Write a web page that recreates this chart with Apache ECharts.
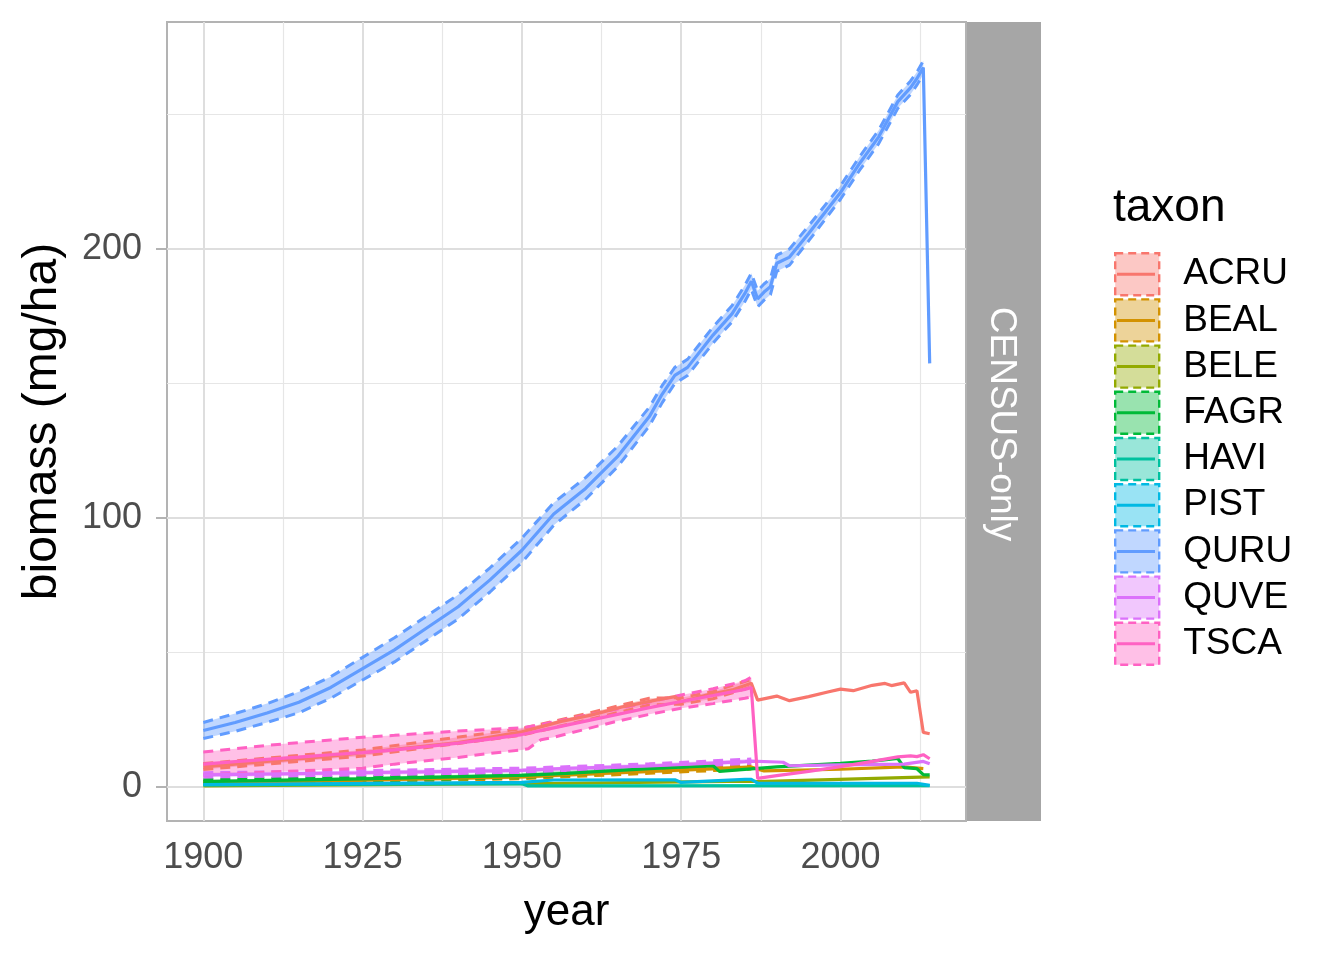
<!DOCTYPE html>
<html><head><meta charset="utf-8">
<script src="https://cdn.jsdelivr.net/npm/echarts@6/dist/echarts.min.js"></script>
<style>html,body{margin:0;padding:0;background:#fff}#c{width:1344px;height:960px}</style>
</head><body><div id="c"></div>
<script>
// ---------- DATA ----------
const taxa = ['ACRU','BEAL','BELE','FAGR','HAVI','PIST','QURU','QUVE','TSCA'];
const colors = ['#F8766D','#D39200','#93AA00','#00BA38','#00C19F','#00B9E3','#619CFF','#DB72FB','#FF61C3'];
const xTicks = [1900,1925,1950,1975,2000];
const yTicks = [0,100,200];
const xMinorGrid = [1912.5,1937.5,1962.5,1987.5,2012.5];
const yMinorGrid = [50,150,250];

// mean lines
const ACRU_years = [1900,1910,1920,1930,1940,1950,1956,1961,1966,1971,1974,1975,1979,1983,1986,1987,1990,1992,1995,1998,2000,2002,2005,2007,2008,2010,2011,2012,2013,2014];
const ACRU_mean  = [7.5,9.5,11.5,14,16.5,20.5,24.3,26.8,29.9,32.3,33.6,31.7,34.2,36.1,38.6,32.3,33.8,32.1,33.6,35.3,36.4,35.8,37.8,38.5,37.7,38.7,35.2,35.8,20.3,19.8];
const BEAL_years = [1900,1925,1950,1957,1970,1985,1986,1988,2000,2010,2013];
const BEAL_mean  = [1.5,2.5,3.8,4.5,5.8,7.3,7.4,6.0,6.6,7.5,6.8];
const BELE_years = [1900,1950,1986,1987,2014];
const BELE_mean  = [0.4,1.2,2.2,2.0,3.8];
const FAGR_years = [1900,1925,1950,1957,1970,1980,1981,1990,2000,2005,2009,2010,2012,2013,2014];
const FAGR_mean  = [2.0,3.0,4.3,5.1,6.8,7.9,5.8,7.5,8.8,9.6,10.6,7.2,6.8,4.6,4.5];
const HAVI_years = [1900,1950,1951,2014];
const HAVI_mean  = [0.8,1.2,0.4,0.5];
const PIST_years = [1900,1950,1955,1974,1975,1985,1986,1987,2012,2014];
const PIST_mean  = [0.9,1.7,2.6,2.7,1.7,2.8,2.8,1.4,1.4,0.6];
const QURU_years = [1900,1905,1910,1915,1920,1925,1930,1935,1940,1945,1950,1955,1960,1965,1970,1972,1974,1976,1980,1983,1985,1986,1987,1988,1989,1990,1992,1995,2000,2003,2006,2009,2011,2012,2013,2014];
const QURU_mean  = [21,24,27.5,31.5,37,44,51,59,67,77,88,101.5,111,122.8,137.7,146,153,156,168,176,183.5,188,181.5,184,186,194.7,197,205.8,221,231.8,241.7,254.8,260,263.4,267.5,157.5];
const QUVE_years = [1900,1925,1950,1957,1970,1985,1986,1990,1991,1992,2000,2010,2013,2014];
const QUVE_mean  = [4.5,5.3,6.2,6.9,7.8,9.4,9.6,9.3,9.2,7.9,8.2,8.5,9.5,8.6];
const TSCA_years = [1900,1905,1910,1915,1920,1925,1930,1935,1940,1945,1950,1955,1960,1965,1970,1975,1980,1985,1986,1987,1990,1995,2000,2005,2009,2011,2012,2013,2014];
const TSCA_mean  = [8.5,9.4,10.3,11.1,12,12.8,13.8,15,16.3,17.8,19.5,22,24.5,27,29.5,31.8,34,36.3,37,3.2,4.2,5.8,7.6,9.5,11.2,11.6,11.3,12,10.5];

// ribbons (lower / upper bounds)
const ACRU_rib_years = [1900,1925,1950,1960,1970,1975,1980,1986];
const ACRU_lower = [6.5,11.5,19.3,24.8,30.5,30.8,32.8,37.2];
const ACRU_upper = [8.7,13.8,21.7,27.2,33.0,33.2,35.5,40.0];
const BEAL_rib_years = [1900,1925,1950,1970,1986];
const BEAL_lower = [0.9,1.9,3.1,5.1,6.7];
const BEAL_upper = [2.1,3.1,4.5,6.5,8.1];
const FAGR_rib_years = [1900,1925,1950,1970,1980];
const FAGR_lower = [1.3,2.3,3.5,6.0,7.1];
const FAGR_upper = [2.7,3.7,5.1,7.6,8.7];
const QURU_rib_years = [1900,1905,1910,1915,1920,1925,1930,1935,1940,1945,1950,1955,1960,1965,1970,1972,1974,1976,1980,1983,1985,1986,1987,1988,1989,1990,1992,1995,2000,2003,2006,2009,2011,2012,2013];
const QURU_lower = [18,20.7,24,27.6,33,39.8,46.5,54.5,62.5,72.5,83.5,97.3,107,119,134.2,142.8,150,153,165,173,180.5,185,178.5,181,183,191.7,194,203,218.5,229.3,239.2,252.3,257.5,261,265];
const QURU_upper = [24,27.3,31,35.4,41,48.2,55.5,63.5,71.5,81.5,92.5,105.7,115,126.6,141.2,149.2,156,159,171,179,186.5,191,184.5,187,189,197.7,200,208.6,223.5,234.3,244.2,257.3,262.5,265.8,270];
const QUVE_rib_years = [1900,1925,1950,1970,1986];
const QUVE_lower = [3.7,4.5,5.4,7.0,8.8];
const QUVE_upper = [5.3,6.1,7.0,8.6,10.4];
const TSCA_rib_years = [1900,1905,1910,1915,1920,1925,1930,1935,1940,1945,1950,1951,1952,1953,1955,1960,1965,1970,1975,1980,1985,1986];
const TSCA_lower = [4.5,5,5.5,6,6.5,7,8.5,9.8,11,12.5,13.8,14.2,16,17.6,18.5,21.5,24.5,27,29.3,31,33,33.5];
const TSCA_upper = [13,14.2,15.5,16.5,17.5,18.5,19.2,20,20.8,21.4,22,22.4,22.8,23.2,24.2,26.6,29,31.6,34.2,36.5,39.5,40.8];

// ---------- BUILD ----------
const FONT = '"Liberation Sans", Arial, sans-serif';
const means = {
  ACRU:[ACRU_years,ACRU_mean], BEAL:[BEAL_years,BEAL_mean], BELE:[BELE_years,BELE_mean],
  FAGR:[FAGR_years,FAGR_mean], HAVI:[HAVI_years,HAVI_mean], PIST:[PIST_years,PIST_mean],
  QURU:[QURU_years,QURU_mean], QUVE:[QUVE_years,QUVE_mean], TSCA:[TSCA_years,TSCA_mean]
};
const ribbons = {
  ACRU:[ACRU_rib_years,ACRU_lower,ACRU_upper], BEAL:[BEAL_rib_years,BEAL_lower,BEAL_upper],
  FAGR:[FAGR_rib_years,FAGR_lower,FAGR_upper], QURU:[QURU_rib_years,QURU_lower,QURU_upper],
  QUVE:[QUVE_rib_years,QUVE_lower,QUVE_upper], TSCA:[TSCA_rib_years,TSCA_lower,TSCA_upper]
};
function col(t){ return colors[taxa.indexOf(t)]; }
function rgba(hex,a){ const n=parseInt(hex.slice(1),16); return `rgba(${n>>16},${(n>>8)&255},${n&255},${a})`; }

const series = [];
// grid lines via markLine (drawn beneath data)
const major = {color:'#DEDEDE', width:2, type:'solid'};
const minor = {color:'#E6E6E6', width:1.2, type:'solid'};
series.push({
  type:'line', name:'__grid', data:[], silent:true, symbol:'none',
  markLine:{
    silent:true, symbol:['none','none'], label:{show:false}, z:1, animation:false,
    emphasis:{disabled:true},
    data:[
      ...xMinorGrid.map(v=>({xAxis:v, lineStyle:minor})),
      ...yMinorGrid.map(v=>({yAxis:v, lineStyle:minor})),
      ...xTicks.map(v=>({xAxis:v, lineStyle:major})),
      ...yTicks.map(v=>({yAxis:v, lineStyle:major}))
    ]
  }
});
// ribbons: filled band (custom polygon through axis scales) + dashed bounds
taxa.forEach(t=>{
  if(!ribbons[t]) return;
  const [ys, lo, hi] = ribbons[t];
  const c = col(t);
  series.push({
    type:'custom', name:t+' band', silent:true,
    data: ys.map((x,i)=>[x, lo[i], hi[i]]),
    encode:{x:0, y:[1,2]},
    renderItem:(params, api)=>{
      if(params.dataIndex!==0) return null;
      const up = ys.map((x,i)=>api.coord([x, hi[i]]));
      const dn = ys.map((x,i)=>api.coord([x, lo[i]])).reverse();
      return {type:'polygon', shape:{points: up.concat(dn)}, style:{fill: rgba(c,0.4)}};
    }
  });
  const dash = {color:c, width:3, type:[10,7]};
  series.push({type:'line', name:t+' lower', symbol:'none', silent:true,
    data: ys.map((x,i)=>[x, lo[i]]), lineStyle:dash, emphasis:{disabled:true}});
  series.push({type:'line', name:t+' upper', symbol:'none', silent:true,
    data: ys.map((x,i)=>[x, hi[i]]), lineStyle:dash, emphasis:{disabled:true}});
});
// mean lines
taxa.forEach(t=>{
  const [ys, m] = means[t];
  const c = col(t);
  series.push({type:'line', name:t, symbol:'none', data: ys.map((x,i)=>[x, m[i]]),
    lineStyle:{color:c, width:3.2}, itemStyle:{color:c}, emphasis:{disabled:true}});
});

// legend middle lines + title + facet strip
const LEG_TOP = 252, LEG_H = 42, LEG_BW = 2.4, LEG_GAP = 1.8;
const LEG_PITCH = LEG_H + LEG_BW + LEG_GAP;
const graphics = [
  {type:'rect', shape:{x:967, y:22, width:74, height:799}, style:{fill:'#A6A6A6'}, silent:true},
  {type:'text', x:1001, y:424, rotation:-Math.PI/2,
    style:{text:'CENSUS-only', fill:'#ffffff', font:'37px '+FONT, textAlign:'center', textVerticalAlign:'middle'}},
  {type:'text', x:1113, y:208, style:{text:'taxon', fill:'#000', font:'46px '+FONT, textAlign:'left', textVerticalAlign:'middle'}}
];
taxa.forEach((t,i)=>{
  const y = LEG_TOP + LEG_BW/2 + LEG_H/2 + LEG_PITCH*i;
  graphics.push({type:'line', shape:{x1:1117, y1:y, x2:1155, y2:y}, style:{stroke:colors[i], lineWidth:3}, silent:true, z:100});
});

const option = {
  animation:false,
  backgroundColor:'#ffffff',
  textStyle:{fontFamily:FONT},
  grid:{left:167, right:378, top:22, bottom:139, show:true, borderColor:'#B3B3B3', borderWidth:2, backgroundColor:'#ffffff'},
  xAxis:{
    type:'value', min:1894.3, max:2019.7,
    name:'year', nameLocation:'middle', nameGap:70,
    nameTextStyle:{fontSize:44, color:'#000', fontFamily:FONT},
    axisLine:{show:false}, splitLine:{show:false},
    axisTick:{show:true, length:11, lineStyle:{color:'#B3B3B3', width:2}, customValues:xTicks},
    axisLabel:{customValues:xTicks, fontSize:36, color:'#4D4D4D', margin:19, fontFamily:FONT,
      formatter:v=>String(v)}
  },
  yAxis:{
    type:'value', min:-12.64, max:284.4,
    name:'biomass (mg/ha)', nameLocation:'middle', nameGap:100,
    nameTextStyle:{fontSize:48, color:'#000', fontFamily:FONT},
    axisLine:{show:false}, splitLine:{show:false},
    axisTick:{show:true, length:11, lineStyle:{color:'#B3B3B3', width:2}, customValues:yTicks},
    axisLabel:{customValues:yTicks, fontSize:36, color:'#4D4D4D', margin:25, fontFamily:FONT,
      formatter:v=>String(v)}
  },
  legend:{
    orient:'vertical', left:1114, top:LEG_TOP, padding:0, itemWidth:44, itemHeight:LEG_H, itemGap:LEG_GAP,
    icon:'rect', selectedMode:false,
    textStyle:{fontSize:37, lineHeight:40, color:'#000', padding:[0,0,0,19], fontFamily:FONT},
    data: taxa.map((t,i)=>({name:t, icon:'rect',
      itemStyle:{color:rgba(colors[i],0.4), borderColor:colors[i], borderWidth:LEG_BW, borderType:[8,5]}}))
  },
  graphic: graphics,
  series
};
const chart = echarts.init(document.getElementById('c'), null, {renderer:'canvas'});
chart.setOption(option);
</script></body></html>
